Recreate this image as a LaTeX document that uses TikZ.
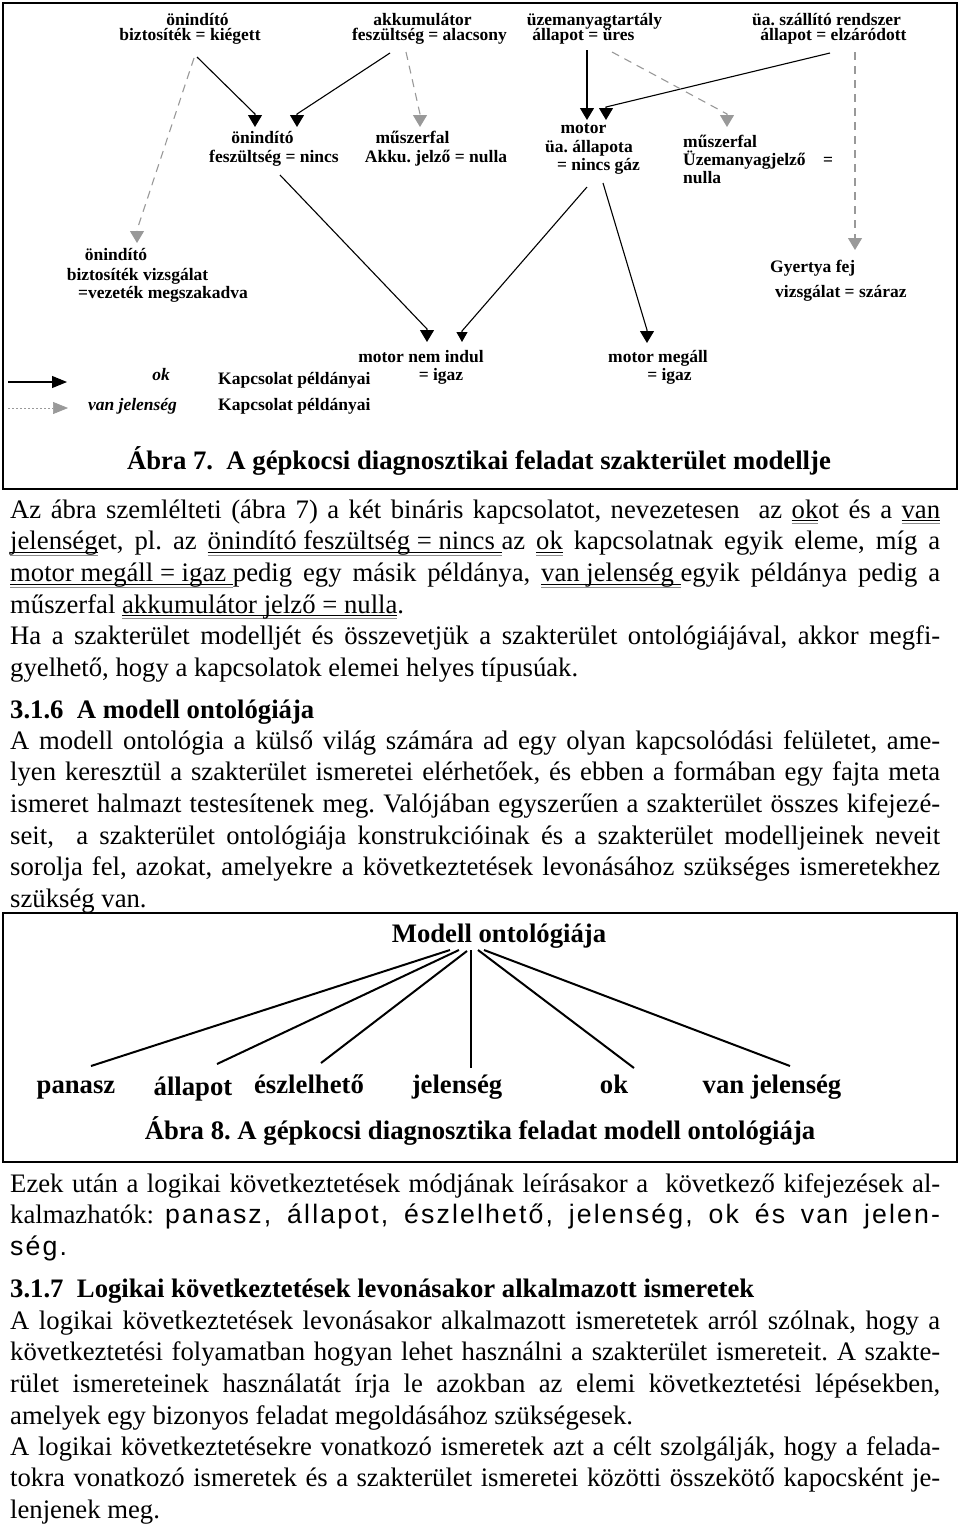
\documentclass[tikz,border=0pt]{standalone}
\usepackage{fontspec}
\setmainfont{Liberation Serif}
\newfontfamily\sansf[LetterSpace=8]{Liberation Sans}
\usetikzlibrary{arrows.meta}
\definecolor{vjgray}{gray}{0.6}
\definecolor{ulgray}{gray}{0.55}
\newcommand\dul[1]{\setbox0=\hbox{#1}\rlap{\color{black}\rule[-3pt]{\wd0}{0.9pt}}\rlap{\color{ulgray}\rule[-6pt]{\wd0}{0.9pt}}\box0\relax}
\newcommand\bodyfont{\fontsize{26.7}{31.7}\selectfont\frenchspacing\tolerance=9999\relax\hyphenpenalty=10000\relax\emergencystretch=20pt\relax}
\newcommand\bodyboldfont{\fontsize{26.7}{31.7}\selectfont\bfseries\frenchspacing}
\newcommand\lblfont{\fontsize{17.5}{18}\selectfont\bfseries\frenchspacing}
\newcommand\lblitfont{\fontsize{17.5}{18}\selectfont\bfseries\itshape}
\tikzset{
  lbl/.style={font=\lblfont, inner sep=0pt, anchor=base},
  lblw/.style={lbl, anchor=base west},
  body/.style={font=\bodyfont, inner sep=0pt, anchor=base west, text width=930pt, align=justify},
  bodyb/.style={font=\bodyboldfont, inner sep=0pt},
  okarr/.style={line width=1.1pt, black, -{Triangle[length=12pt,width=14pt]}},
  okarrs/.style={line width=1.1pt, black, -{Triangle[length=10pt,width=11pt]}},
  vjarr/.style={line width=1.1pt, vjgray, dash pattern=on 8pt off 6pt, -{Triangle[length=12pt,width=14pt]}},
  legok/.style={line width=1.1pt, black, -{Triangle[length=15pt,width=12pt]}},
  legvj/.style={line width=0.7pt, vjgray, dash pattern=on 2pt off 2pt, -{Triangle[length=15pt,width=12pt]}},
  framebox/.style={line width=2pt},
  ontline/.style={line width=2pt}
}
\begin{document}
\begin{tikzpicture}[x=1pt,y=-1pt]
\useasboundingbox (0,0) rectangle (960,1524);
\fill[white] (0,0) rectangle (960,1524);
% ---------- Figure 7 ----------
\draw[framebox] (3,3) rectangle (957,489);
\node[lbl] (a1) at (197.5,25) {önindító};
\node[lbl] (a2) at (190,40) {biztosíték = kiégett};
\node[lbl] (b1) at (422.5,25) {akkumulátor};
\node[lbl] (b2) at (429.5,40) {feszültség = alacsony};
\node[lbl] (c1) at (594.5,25) {üzemanyagtartály};
\node[lbl] (c2) at (583.5,40) {állapot = üres};
\node[lbl] (d1) at (826.5,25) {üa. szállító rendszer};
\node[lbl] (d2) at (833.5,40) {állapot = elzáródott};
\node[lbl] (e1) at (262.5,143) {önindító};
\node[lbl] (e2) at (274,162) {feszültség = nincs};
\node[lbl] (f1) at (412.5,143) {műszerfal};
\node[lbl] (f2) at (436,162) {Akku. jelző = nulla};
\node[lbl] (g1) at (583.5,133) {motor};
\node[lbl] (g2) at (589,152) {üa. állapota};
\node[lbl] (g3) at (598.5,170) {= nincs gáz};
\node[lblw] (h1) at (683,147) {műszerfal};
\node[lblw] (h2) at (683,165) {Üzemanyagjelző\ \ \ \ =};
\node[lblw] (h3) at (683,183) {nulla};
\node[lbl] (i1) at (116,260) {önindító};
\node[lbl] (i2) at (137.5,280) {biztosíték vizsgálat};
\node[lbl] (i3) at (163,298) {=vezeték megszakadva};
\node[lblw] (j1) at (770,272) {Gyertya fej};
\node[lblw] (j2) at (775,297) {vizsgálat = száraz};
\node[lbl] (k1) at (421,362) {motor nem indul};
\node[lbl] (k2) at (441,380) {= igaz};
\node[lbl] (l1) at (658,362) {motor megáll};
\node[lbl] (l2) at (669.5,380) {= igaz};
% legend
\node[lbl, font=\lblitfont] (lgok) at (161,380) {ok};
\node[lbl, font=\lblitfont] (lgvj) at (132.5,410) {van jelenség};
\node[lblw] (lgk1) at (218,384) {Kapcsolat példányai};
\node[lblw] (lgk2) at (218,410) {Kapcsolat példányai};
\coordinate (lg1s) at (8,382); \coordinate (lg1e) at (67,382);
\coordinate (lg2s) at (8,408); \coordinate (lg2e) at (68,408);
\draw[legok] (lg1s) -- (lg1e);
\draw[legvj] (lg2s) -- (lg2e);
% connector end points
\coordinate (s1) at (197,57);  \coordinate (t1) at (255,127);
\coordinate (s2) at (390,53);  \coordinate (t2) at (297,127);
\coordinate (s3) at (406,52);  \coordinate (t3) at (420,127);
\coordinate (s4) at (194,58);  \coordinate (t4) at (137,243);
\coordinate (s5) at (587,50);  \coordinate (t5) at (587,120);
\coordinate (s6) at (830,53);  \coordinate (t6) at (606,120);
\coordinate (s7) at (612,52);  \coordinate (t7) at (727,127);
\coordinate (s8) at (855,52);  \coordinate (t8) at (855,250);
\coordinate (s9) at (280,175); \coordinate (t9) at (427,342);
\coordinate (s10) at (587,187); \coordinate (t10) at (462,342);
\coordinate (s11) at (603,183); \coordinate (t11) at (647,343);
\draw[okarr] (s1) -- ([yshift=13pt]t1) -- (t1);
\draw[okarr] (s2) -- ([yshift=13pt]t2) -- (t2);
\draw[vjarr] (s3) -- ([yshift=13pt]t3) -- (t3);
\draw[vjarr] (s4) -- ([yshift=13pt]t4) -- (t4);
\draw[okarr] (s5) -- ([yshift=13pt]t5) -- (t5);
\draw[okarr] (s6) -- ([yshift=13pt]t6) -- (t6);
\draw[vjarr] (s7) -- ([yshift=13pt]t7) -- (t7);
\draw[vjarr] (s8) -- ([yshift=13pt]t8) -- (t8);
\draw[okarr] (s9) -- ([yshift=13pt]t9) -- (t9);
\draw[okarrs] (s10) -- ([yshift=11pt]t10) -- (t10);
\draw[okarr] (s11) -- ([yshift=13pt]t11) -- (t11);
\node[bodyb, anchor=base] (cap7) at (479,469) {Ábra 7.\ \ A gépkocsi diagnosztikai feladat szakterület modellje};
% ---------- Text ----------
\node[body] (p1) at (10,518) {Az ábra szemlélteti (ábra 7) a két bináris kapcsolatot, nevezetesen\ \ az \dul{ok}ot és a \dul{van}\linebreak
\dul{jelenség}et, pl. az \dul{önindító feszültség = nincs }az \dul{ok} kapcsolatnak egyik eleme, míg a\linebreak
\dul{motor megáll = igaz }pedig egy másik példánya, \dul{van jelenség }egyik példánya pedig a\linebreak
műszerfal \dul{akkumulátor jelző = nulla}.};
\node[body] (p2) at (10,644.8) {Ha a szakterület modelljét és összevetjük a szakterület ontológiájával, akkor megfi-\linebreak
gyelhető, hogy a kapcsolatok elemei helyes típusúak.};
\node[bodyb, anchor=base west] (h316) at (10,718) {3.1.6\ \ A modell ontológiája};
\node[body] (p3) at (10,749) {A modell ontológia a külső világ számára ad egy olyan kapcsolódási felületet, ame-\linebreak
lyen keresztül a szakterület ismeretei elérhetőek, és ebben a formában egy fajta meta\linebreak
ismeret halmazt testesítenek meg. Valójában egyszerűen a szakterület összes kifejezé-\linebreak
seit,\ \ a szakterület ontológiája konstrukcióinak és a szakterület modelljeinek neveit\linebreak
sorolja fel, azokat, amelyekre a következtetések levonásához szükséges ismeretekhez\linebreak
szükség van.};
% ---------- Figure 8 ----------
\draw[framebox] (3,913) rectangle (957,1162);
\node[bodyb, anchor=base] (mo) at (499,942) {Modell ontológiája};
\node[bodyb, anchor=base] (o1) at (76,1093) {panasz};
\node[bodyb, anchor=base] (o2) at (193,1095) {állapot};
\node[bodyb, anchor=base] (o3) at (309,1093) {észlelhető};
\node[bodyb, anchor=base] (o4) at (457,1093) {jelenség};
\node[bodyb, anchor=base] (o5) at (614,1093) {ok};
\node[bodyb, anchor=base] (o6) at (772,1093) {van jelenség};
\coordinate (m1) at (450,950); \coordinate (e81) at (91,1066);
\coordinate (m2) at (459,950); \coordinate (e82) at (217,1064);
\coordinate (m3) at (467,951); \coordinate (e83) at (321,1063);
\coordinate (m4) at (471,950); \coordinate (e84) at (471,1068);
\coordinate (m5) at (478,950); \coordinate (e85) at (634,1068);
\coordinate (m6) at (484,950); \coordinate (e86) at (790,1066);
\draw[ontline] (m1) -- (e81);
\draw[ontline] (m2) -- (e82);
\draw[ontline] (m3) -- (e83);
\draw[ontline] (m4) -- (e84);
\draw[ontline] (m5) -- (e85);
\draw[ontline] (m6) -- (e86);
\node[bodyb, anchor=base] (cap8) at (480,1139) {Ábra 8. A gépkocsi diagnosztika feladat modell ontológiája};
% ---------- Text after ----------
\node[body] (p4) at (10,1192) {Ezek után a logikai következtetések módjának leírásakor a\ \ következő kifejezések al-\linebreak
kalmazhatók: {\sansf panasz, állapot, észlelhető, jelenség, ok és van jelen-}\linebreak
{\sansf ség.}};
\node[bodyb, anchor=base west] (h317) at (10,1297) {3.1.7\ \ Logikai következtetések levonásakor alkalmazott ismeretek};
\node[body] (p5) at (10,1329) {A logikai következtetések levonásakor alkalmazott ismeretetek arról szólnak, hogy a\linebreak
következtetési folyamatban hogyan lehet használni a szakterület ismereteit. A szakte-\linebreak
rület ismereteinek használatát írja le azokban az elemi következtetési lépésekben,\linebreak
amelyek egy bizonyos feladat megoldásához szükségesek.};
\node[body] (p6) at (10,1455) {A logikai következtetésekre vonatkozó ismeretek azt a célt szolgálják, hogy a felada-\linebreak
tokra vonatkozó ismeretek és a szakterület ismeretei közötti összekötő kapocsként je-\linebreak
lenjenek meg.};
\end{tikzpicture}
\end{document}
